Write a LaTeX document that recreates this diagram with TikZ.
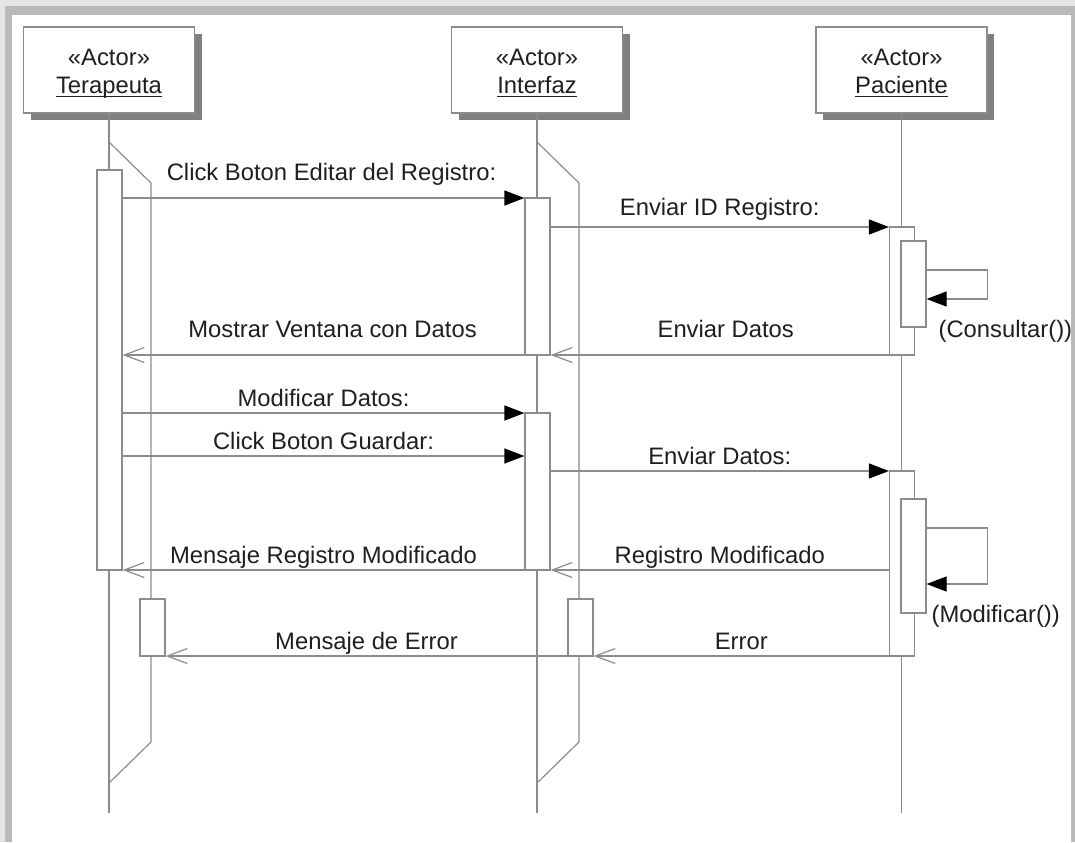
\documentclass[tikz,border=0pt]{standalone}
\usepackage{fontspec}
\setmainfont{Liberation Sans}
\usetikzlibrary{arrows.meta,shadows}
\newcommand\namebar[1]{\setbox0\hbox{#1}\rlap{\rule[-2pt]{\wd0}{0.7pt}}\box0}

\begin{document}
\begin{tikzpicture}[x=0.5pt,y=-0.5pt,line width=0.6pt,draw=black!45]
    \tikzstyle{every node}=[font=\fontsize{11.9}{14}\selectfont,text=black!88]
    \tikzstyle{actor}=[rectangle,draw=black!45,fill=white,minimum width=85.5pt,minimum height=43pt,
        inner sep=0pt,align=center,drop shadow={shadow xshift=3.5pt,shadow yshift=-3.5pt,fill=black!50,opacity=1}]
    \tikzstyle{bar}=[rectangle,draw=black!45,fill=white,minimum width=12.5pt,inner sep=0pt]
    \tikzstyle{life}=[draw=black!45]
    \tikzstyle{call}=[draw=black!45,-{Triangle[length=10pt,width=7.5pt,color=black]}]
    \tikzstyle{reply}=[draw=black!45,-{Straight Barb[length=10pt,width=7.5pt]}]
    \tikzstyle{lbl}=[anchor=base,inner sep=0pt,yshift=3.5pt]

    % Background and window shadow
    \useasboundingbox (0,0) rectangle (1075,842);
    \fill[black!10] (0,0) rectangle (1075,842);
    \fill[black!27] (5,6) rectangle (1075,842);
    \fill[white] (12,15) rectangle (1071,842);

    % Draw the actors
    \foreach \name/\x/\title in {T/109/Terapeuta,I/537/Interfaz,P/901.5/Paciente}
        \node[actor] (\name) at (\x,70) {};
    \foreach \name/\title in {T/Terapeuta,I/Interfaz,P/Paciente}
        \node[anchor=base,align=center,inner sep=0pt] (\name-txt) at ([yshift=-11.5pt]\name.center) {«Actor»\\\namebar{\title}};

    % Message levels
    \coordinate (top) at (0,142);
    \coordinate (bot) at (0,813);
    \foreach \m/\y in {m1/198,m2/227,m3/355,m4/413,m5/456,m6/471,m7/570,m8/656,
                       c1/270,c2/299,d1/528,d2/584}
        \coordinate (\m) at (0,\y);

    % Draw the lifelines and the threads
    \foreach \name in {T,I,P}
        \draw[life] (\name.south) -- (\name.south |- bot);
    \foreach \name in {T,I}
        \draw[life] (\name.south |- top) -- ++(42,41) -- ++(0,559) -- ++(-42,41);

    % Draw the activation bars
    \node[bar,minimum height=200pt] (T1) at (109.5,370) {};
    \node[bar,minimum height=28.5pt] (T2) at (152.5,627.5) {};
    \node[bar,minimum height=78.5pt] (I1) at (537.5,276.5) {};
    \node[bar,minimum height=78.5pt] (I2) at (537.5,491.5) {};
    \node[bar,minimum height=28.5pt] (I3) at (580.5,627.5) {};
    \node[bar,minimum height=64pt] (P1) at (902,291) {};
    \node[bar,minimum height=43pt] (P1n) at (913.5,284) {};
    \node[bar,minimum height=92.5pt] (P2) at (902,563.5) {};
    \node[bar,minimum height=57pt] (P2n) at (913.5,556) {};

    % Messages: consult the record
    \draw[call] (T1.east |- m1) -- node[lbl,yshift=5.5pt,xshift=4pt] {Click Boton Editar del Registro:} (I1.west |- m1);
    \draw[call] (I1.east |- m2) -- node[lbl,yshift=2.5pt] {Enviar ID Registro:} (P1.west |- m2);
    \draw[call] (P1n.east |- c1) -- ++(61,0) -- ++(0,29) -- (P1n.east |- c2);
    \node[anchor=base west,inner sep=0pt] (cons) at (938,337) {(Consultar())};
    \draw[reply] (P1.west |- m3) -- node[lbl,yshift=5.5pt,xshift=3pt] {Enviar Datos} (I1.east |- m3);
    \draw[reply] (I1.west |- m3) -- node[lbl,yshift=5.5pt,xshift=4.5pt] {Mostrar Ventana con Datos} (T1.east |- m3);

    % Messages: modify the record
    \draw[call] (T1.east |- m4) -- node[lbl] {Modificar Datos:} (I2.west |- m4);
    \draw[call] (T1.east |- m5) -- node[lbl] {Click Boton Guardar:} (I2.west |- m5);
    \draw[call] (I2.east |- m6) -- node[lbl] {Enviar Datos:} (P2.west |- m6);
    \draw[call] (P2n.east |- d1) -- ++(61,0) -- ++(0,56) -- (P2n.east |- d2);
    \node[anchor=base west,inner sep=0pt] (modi) at (931,622) {(Modificar())};
    \draw[reply] (P2.west |- m7) -- node[lbl] {Registro Modificado} (I2.east |- m7);
    \draw[reply] (I2.west |- m7) -- node[lbl] {Mensaje Registro Modificado} (T1.east |- m7);

    % Messages: error
    \draw[reply] (P2.west |- m8) -- node[lbl] {Error} (I3.east |- m8);
    \draw[reply] (I3.west |- m8) -- node[lbl] {Mensaje de Error} (T2.east |- m8);
\end{tikzpicture}
\end{document}
